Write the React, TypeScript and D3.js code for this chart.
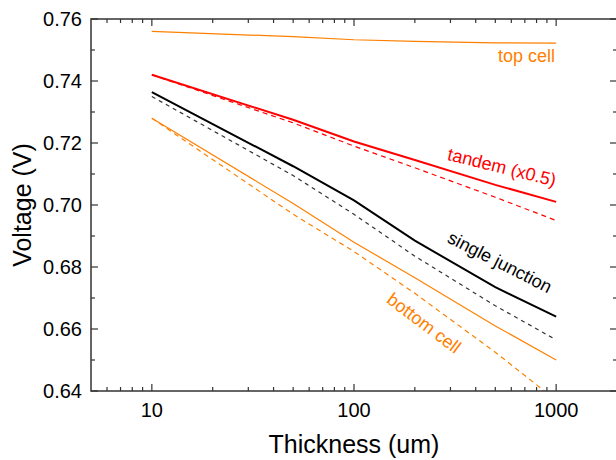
import * as d3 from "d3";

const thickness = [10, 50, 100, 200, 500, 1000];

const topCell = [0.756, 0.7543, 0.7533, 0.7528, 0.7523, 0.7522];
const tandemSolid = [0.742, 0.7275, 0.7205, 0.7145, 0.7065, 0.701];
const tandemDashed = [0.742, 0.7265, 0.719, 0.712, 0.7025, 0.695];
const singleSolid = [0.7364, 0.7125, 0.7015, 0.6885, 0.6735, 0.664];
const singleDashed = [0.735, 0.7095, 0.697, 0.6835, 0.6675, 0.6565];
const bottomSolid = [0.728, 0.7005, 0.688, 0.6765, 0.661, 0.65];
const bottomDashed = [0.728, 0.697, 0.685, 0.6715, 0.6525, 0.637];

const yTicks = [0.64, 0.66, 0.68, 0.7, 0.72, 0.74, 0.76];
const xTicks = [10, 100, 1000];

const ORANGE = "#ff8000";
const RED = "#ff0000";
const FONT = "'Liberation Sans', Arial, sans-serif";

const series = [
  { values: topCell, color: ORANGE, width: 1.2, dash: null },
  { values: tandemDashed, color: RED, width: 1.2, dash: "5,4" },
  { values: tandemSolid, color: RED, width: 2, dash: null },
  { values: singleDashed, color: "#333", width: 1.2, dash: "4,4" },
  { values: singleSolid, color: "#000", width: 2, dash: null },
  { values: bottomDashed, color: ORANGE, width: 1.2, dash: "5,4" },
  { values: bottomSolid, color: ORANGE, width: 1.2, dash: null },
];

export default function App() {
  const left = 91, right = 617, top = 19, bottom = 391;

  const x = d3.scaleLog().domain([5, 2000]).range([left, right]);
  const y = d3.scaleLinear().domain([0.64, 0.76]).range([bottom, top]);

  const line = d3
    .line<number>()
    .x((d, i) => x(thickness[i]))
    .y((d) => y(d));

  // minor ticks on the log axis: 6..9, 20..90, 200..900, 2000
  const minorX: number[] = [];
  [1, 10, 100, 1000].forEach((dec) => {
    for (let k = 2; k <= 9; k++) {
      const v = k * dec;
      if (v > 5 && v <= 2000 && !xTicks.includes(v)) minorX.push(v);
    }
  });
  const minorY = d3.range(0.65, 0.76, 0.02);

  const axisColor = "#333";

  return (
    <svg
      width={616}
      height={460}
      style={{ position: "absolute", left: 0, top: 0, background: "#fff" }}
      fontFamily={FONT}
    >
      <defs>
        <clipPath id="plot">
          <rect x={left} y={top} width={right - left} height={bottom - top} />
        </clipPath>
      </defs>

      <g clipPath="url(#plot)" fill="none">
        {series.map((s, i) => (
          <path
            key={i}
            d={line(s.values) || ""}
            stroke={s.color}
            strokeWidth={s.width}
            strokeDasharray={s.dash || undefined}
          />
        ))}
      </g>

      {/* frame */}
      <rect
        x={left}
        y={top}
        width={right - left}
        height={bottom - top}
        fill="none"
        stroke={axisColor}
        strokeWidth={1.5}
      />

      {/* ticks on all four sides, pointing inward */}
      <g stroke={axisColor} strokeWidth={1.2}>
        {xTicks.map((t) => (
          <g key={"xm" + t}>
            <line x1={x(t)} x2={x(t)} y1={bottom} y2={bottom - 7} />
            <line x1={x(t)} x2={x(t)} y1={top} y2={top + 7} />
          </g>
        ))}
        {minorX.map((t) => (
          <g key={"xn" + t}>
            <line x1={x(t)} x2={x(t)} y1={bottom} y2={bottom - 4} />
            <line x1={x(t)} x2={x(t)} y1={top} y2={top + 4} />
          </g>
        ))}
        {yTicks.map((t) => (
          <g key={"ym" + t}>
            <line x1={left} x2={left + 7} y1={y(t)} y2={y(t)} />
            <line x1={right} x2={right - 7} y1={y(t)} y2={y(t)} />
          </g>
        ))}
        {minorY.map((t) => (
          <g key={"yn" + t}>
            <line x1={left} x2={left + 4} y1={y(t)} y2={y(t)} />
            <line x1={right} x2={right - 4} y1={y(t)} y2={y(t)} />
          </g>
        ))}
      </g>

      {/* tick labels */}
      <g fontSize={20} fill="#000">
        {yTicks.map((t) => (
          <text key={"yl" + t} x={82} y={y(t)} dy="0.35em" textAnchor="end">
            {d3.format(".2f")(t)}
          </text>
        ))}
        {xTicks.map((t) => (
          <text key={"xl" + t} x={x(t)} y={417} textAnchor="middle">
            {t}
          </text>
        ))}
      </g>

      {/* axis titles */}
      <text x={354} y={453} textAnchor="middle" fontSize={25} fill="#000">
        Thickness (um)
      </text>
      <text
        transform={`translate(31,${(top + bottom) / 2}) rotate(-90)`}
        textAnchor="middle"
        fontSize={25}
        fill="#000"
      >
        Voltage (V)
      </text>

      {/* curve labels */}
      <g fontSize={18}>
        <text x={555} y={62} textAnchor="end" fill={ORANGE}>
          top cell
        </text>
        <text
          transform="translate(502,167) rotate(14)"
          dy="0.35em"
          textAnchor="middle"
          fill={RED}
        >
          tandem (x0.5)
        </text>
        <text
          transform="translate(500,262) rotate(27)"
          dy="0.35em"
          textAnchor="middle"
          fill="#000"
        >
          single junction
        </text>
        <text
          transform="translate(424,323) rotate(37)"
          dy="0.35em"
          textAnchor="middle"
          fill={ORANGE}
        >
          bottom cell
        </text>
      </g>
    </svg>
  );
}
